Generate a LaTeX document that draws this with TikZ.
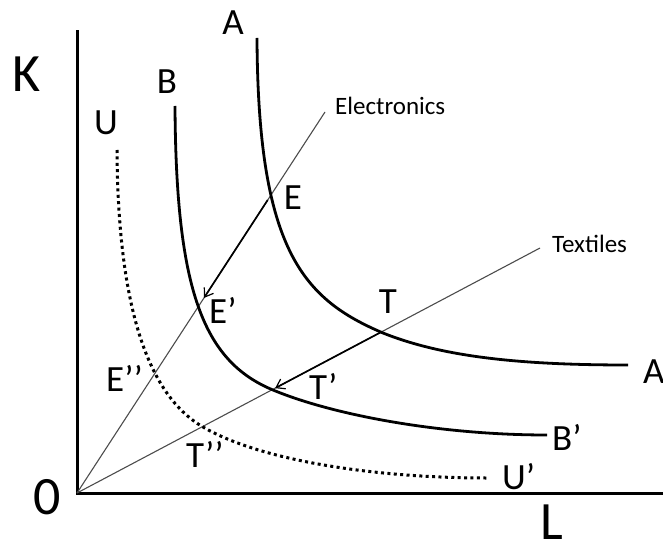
\documentclass[tikz,border=0pt]{standalone}
\usepackage{fontspec}
\setmainfont{Carlito}
\usetikzlibrary{arrows.meta,calc}
\begin{document}
\begin{tikzpicture}[x=1pt,y=-1pt,
  axis/.style={line width=3pt,line cap=rect},
  isoquant/.style={line width=2.8pt},
  dottedquant/.style={line width=3pt,dash pattern=on 3pt off 3.4pt},
  ray/.style={line width=1.1pt,black!70},
  shift arrow/.style={line width=1.7pt,-{Straight Barb[length=8pt,width=11pt,line width=1.2pt]}},
  biglab/.style={inner sep=0pt,font=\fontsize{54}{54}\selectfont},
  lab/.style={inner sep=0pt,font=\fontsize{37}{37}\selectfont},
  smalllab/.style={inner sep=0pt,font=\fontsize{25}{25}\selectfont}]
\useasboundingbox (0,0) rectangle (663,545);
% axes
\coordinate (O) at (77,493);
\coordinate (Ktop) at (77,32);
\coordinate (Lend) at (670,493);
\draw[axis] (Ktop) -- (O) -- (Lend);
% rays
\coordinate (Eend) at (325,112);
\coordinate (Tend) at (540,248);
\draw[ray] (O) -- (Eend);
\draw[ray] (O) -- (Tend);
% isoquants
\coordinate (A0) at (257,38);
\coordinate (A1) at (628,365);
\coordinate (Tp) at (383,333);
\draw[isoquant] (A0) .. controls (258,250) and (303,299) .. (Tp)
                     .. controls (443,357) and (520,365) .. (A1);
\coordinate (B0) at (175,106);
\coordinate (B1) at (547,435);
\coordinate (T1p) at (273,390);
\draw[isoquant] (B0) .. controls (176,290) and (203,361) .. (T1p)
                     .. controls (333,415) and (440,435) .. (B1);
\coordinate (U0) at (117,150);
\coordinate (U1) at (487,478);
\coordinate (T2p) at (203,427);
\draw[dottedquant] (U0) .. controls (118,320) and (153,398) .. (T2p)
                        .. controls (263,462) and (380,478) .. (U1);
% shift arrows
\coordinate (E) at ($(O)!0.769!(Eend)$);
\coordinate (Etip) at ($(O)!0.512!(Eend)$);
\coordinate (T) at ($(O)!0.657!(Tend)$);
\coordinate (Ttip) at ($(O)!0.428!(Tend)$);
\draw[shift arrow] (E) -- (Etip);
\draw[shift arrow] (T) -- (Ttip);
% labels
\node[biglab] (labK) at (27,74) {K};
\node[biglab] (labO) at (47,497) {0};
\node[biglab] (labL) at (552,522) {L};
\node[lab] (labA) at (233,23) {A};
\node[lab] (labB) at (167,82) {B};
\node[lab] (labU) at (106,123) {U};
\node[lab,anchor=west] (labA2) at (643,370) {A\textquoteright};
\node[lab,anchor=west] (labB2) at (552,437) {B\textquoteright};
\node[lab,anchor=west] (labU2) at (502,477) {U\textquoteright};
\node[lab] (labE) at (293,198) {E};
\node[lab,anchor=west] (labE1) at (209,310) {E\textquoteright};
\node[lab,anchor=west] (labE2) at (106,378) {E\textquoteright\textquoteright};
\node[lab] (labT) at (388,302) {T};
\node[lab,anchor=west] (labT1) at (309,386) {T\textquoteright};
\node[lab,anchor=west] (labT2) at (186,454) {T\textquoteright\textquoteright};
\node[smalllab,anchor=west] (labEl) at (335,106) {Electronics};
\node[smalllab,anchor=west] (labTx) at (552,244) {Textiles};
\end{tikzpicture}
\end{document}
